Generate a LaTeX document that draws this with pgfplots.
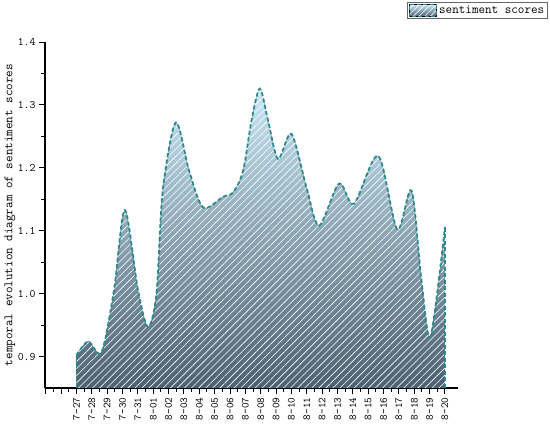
\documentclass[border=0pt]{standalone}
\usepackage{pgfplots}
\pgfplotsset{compat=1.18}
\usepgfplotslibrary{fillbetween}
\usetikzlibrary{patterns.meta}
\definecolor{topc}{HTML}{C9E7F6}
\definecolor{botc}{HTML}{4C6070}
\definecolor{dashc}{HTML}{2A8A8C}
\begin{document}
\begin{tikzpicture}
\begin{axis}[
  name=ax, at={(0,0)}, anchor=south west,
  scale only axis, width=413bp, height=346bp,
  xmin=-2.05, xmax=24.85, ymin=0.85, ymax=1.4,
  axis x line*=bottom, axis y line*=left,
  axis line style={line width=1.2bp, black},
  every tick/.style={black, line width=1bp},
  tick align=outside,
  major tick length=6bp, minor tick length=3.5bp,
  xtick={-2,-1,0,1,2,3,4,5,6,7,8,9,10,11,12,13,14,15,16,17,18,19,20,21,22,23,24},
  xticklabels={{},{},7-27,7-28,7-29,7-30,7-31,8-01,8-02,8-03,8-04,8-05,8-06,8-07,8-08,8-09,8-10,8-11,8-12,8-13,8-14,8-15,8-16,8-17,8-18,8-19,8-20},
  minor x tick num=1,
  ytick={0.9,1,1.1,1.2,1.3,1.4},
  minor y tick num=1,
  yticklabel style={/pgf/number format/fixed, /pgf/number format/fixed zerofill, /pgf/number format/precision=1},
  /pgf/number format/assume math mode=true,
  xticklabel style={font=\ttfamily\fontsize{10.8}{12}\selectfont, rotate=90, anchor=east},
  yticklabel style={font=\ttfamily\fontsize{11.5}{12}\selectfont},
  ylabel={temporal evolution diagram of sentiment scores},
  ylabel style={font=\ttfamily\fontsize{12.8}{14}\selectfont, at={(axis description cs:-0.0847,0.5)}, anchor=center},
  legend style={at={(axis description cs:1.218,1.1156)}, anchor=north east,
    draw=black!60, line width=0.6bp, font=\ttfamily\fontsize{12.8}{14}\selectfont,
    inner sep=1.5bp, row sep=0pt},
  legend cell align=left,
]
\addplot[name path=A, draw=none, smooth, forget plot] coordinates {
(0,0.902) (0.76,0.924) (1.63,0.907) (2.44,1.005) (3.15,1.133) (4.01,1.005) (4.66,0.947) (5.21,1.0) (5.62,1.164) (6.47,1.272) (7.34,1.195) (8.25,1.137) (9.55,1.154) (10.2,1.161) (10.85,1.195) (11.4,1.275) (11.94,1.326) (12.48,1.275) (13.13,1.214) (14.0,1.254) (14.98,1.169) (15.8,1.108) (17.1,1.175) (18.07,1.143) (19.65,1.219) (20.89,1.102) (21.82,1.164) (22.47,1.021) (23.06,0.932) (24,1.106)
};
\addplot[name path=B, draw=none, forget plot] coordinates {(0,0.85) (24,0.85)};
\addplot[top color=topc, bottom color=botc, draw=none, forget plot] fill between[of=A and B];
\addplot[pattern={Lines[angle=45,distance=5bp,line width=0.6bp]}, pattern color=white, fill opacity=0.35, draw=none, forget plot] fill between[of=A and B];
\addplot[dashc, line width=1.8bp, dash pattern=on 4bp off 2.5bp, smooth, forget plot] coordinates {
(0,0.902) (0.76,0.924) (1.63,0.907) (2.44,1.005) (3.15,1.133) (4.01,1.005) (4.66,0.947) (5.21,1.0) (5.62,1.164) (6.47,1.272) (7.34,1.195) (8.25,1.137) (9.55,1.154) (10.2,1.161) (10.85,1.195) (11.4,1.275) (11.94,1.326) (12.48,1.275) (13.13,1.214) (14.0,1.254) (14.98,1.169) (15.8,1.108) (17.1,1.175) (18.07,1.143) (19.65,1.219) (20.89,1.102) (21.82,1.164) (22.47,1.021) (23.06,0.932) (24,1.106)
};
\addplot[dashc, line width=1.6bp, dash pattern=on 4bp off 2.5bp, forget plot] coordinates {(0,0.85) (0,0.902)};
\addplot[dashc, line width=1.6bp, dash pattern=on 4bp off 2.5bp, forget plot] coordinates {(24,0.85) (24,1.106)};
\addlegendimage{legend image code/.code={
  \shade[top color=topc, bottom color=botc] (0bp,-6bp) rectangle (27bp,6bp);
  \fill[pattern={Lines[angle=45,distance=4bp,line width=0.6bp]}, pattern color=white, fill opacity=0.4] (0bp,-6bp) rectangle (27bp,6bp);
  \draw[dashc, line width=1.4bp, dash pattern=on 4bp off 2.5bp] (0bp,-6bp) rectangle (27bp,6bp);
}}
\addlegendentry{sentiment scores}
\end{axis}
\pgfresetboundingbox
\path (-45bp,-36bp) rectangle (505bp,388bp);
\end{tikzpicture}
\end{document}
